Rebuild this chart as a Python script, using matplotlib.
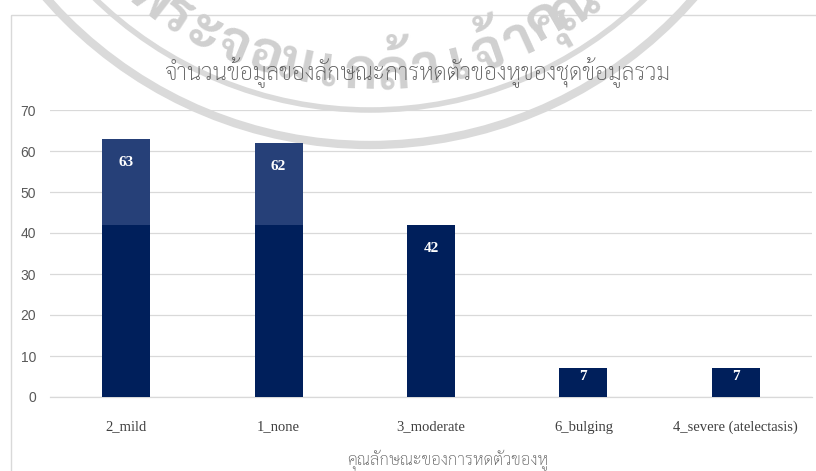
import numpy as np
import matplotlib
matplotlib.use("Agg")
import matplotlib.pyplot as plt
from matplotlib.patches import Circle, Rectangle

categories = ["2_mild", "1_none", "3_moderate", "6_bulging", "4_severe (atelectasis)"]
base_counts = [42, 42, 42, 7, 7]
extra_counts = [21, 20, 0, 0, 0]
totals = [b + e for b, e in zip(base_counts, extra_counts)]

title = "จำนวนข้อมูลของลักษณะการหดตัวของหูของชุดข้อมูลรวม"
xlabel = "คุณลักษณะของการหดตัวของหู"
seal_text = ["พ", "ร", "ะ", "จ", "อ", "ม", "เ", "ก", "ล้", "า", "เ", "จ้", "า", "คุ", "ณ"]

thai = ["Sarabun", "DejaVu Sans"]
W, H = 816, 471

fig = plt.figure(figsize=(W / 100, H / 100), dpi=100)

# background layer in pixel units (y down): chart frame + seal watermark
bg = fig.add_axes([0, 0, 1, 1], zorder=-1)
bg.set_xlim(0, W)
bg.set_ylim(H, 0)
bg.axis("off")
bg.add_patch(Rectangle((10.5, 14.5), W + 20, H + 20, fill=False, ec="#d9d9d9", lw=1))

cx, cy = 370, -285
seal = "#dadada"
bg.add_patch(Circle((cx, cy), 430, fill=False, ec=seal, lw=6))
bg.add_patch(Circle((cx, cy), 395, fill=False, ec=seal, lw=4))
angles = np.linspace(-38, 35, len(seal_text))
for ch, a in zip(seal_text, angles):
    t = np.radians(a)
    bg.text(cx + 360 * np.sin(t), cy + 360 * np.cos(t), ch, rotation=a,
            rotation_mode="anchor", ha="center", va="center",
            fontsize=40, fontweight="bold", color="#d0d0d0", family=thai)

ax = fig.add_axes([50 / W, 1 - 397 / H, 762 / W, 287 / H])
ax.patch.set_alpha(0)
x = np.arange(len(categories))
ax.bar(x, base_counts, width=0.315, color="#001f5b", zorder=3)
ax.bar(x, extra_counts, width=0.315, bottom=base_counts, color="#264078", zorder=3)

for xi, total in zip(x, totals):
    off = -17 if total > 20 else -6
    ax.annotate(str(total), (xi, total), xytext=(0, off), textcoords="offset points",
                ha="center", va="center", color="white", fontsize=11,
                fontweight="bold", family="Liberation Serif", zorder=4)

ax.set_xlim(-0.5, len(categories) - 0.5)
ax.set_ylim(0, 70)
ax.set_yticks(range(0, 71, 10))
ax.grid(axis="y", color="#d9d9d9", lw=0.9, zorder=0)
ax.set_axisbelow(True)
for s in ["top", "right", "left"]:
    ax.spines[s].set_visible(False)
ax.spines["bottom"].set_color("#d9d9d9")
ax.spines["bottom"].set_linewidth(0.9)
ax.tick_params(length=0)
ax.tick_params(axis="y", pad=10, labelsize=10, labelcolor="#595959")
ax.set_yticklabels([str(v) for v in range(0, 71, 10)], family="Liberation Sans")
ax.set_xticks(x)
ax.set_xticklabels(categories, family="Liberation Serif", fontsize=10.5, color="#404040")
ax.tick_params(axis="x", pad=17)

fig.text(417 / W, 1 - 73 / H, title, ha="center", va="center",
         fontsize=16.6, fontweight="light", color="#595959", family=thai)
fig.text(448 / W, 1 - 460 / H, xlabel, ha="center", va="center",
         fontsize=12.2, fontweight="light", color="#595959", family=thai)

fig.savefig("out.png", dpi=100)
